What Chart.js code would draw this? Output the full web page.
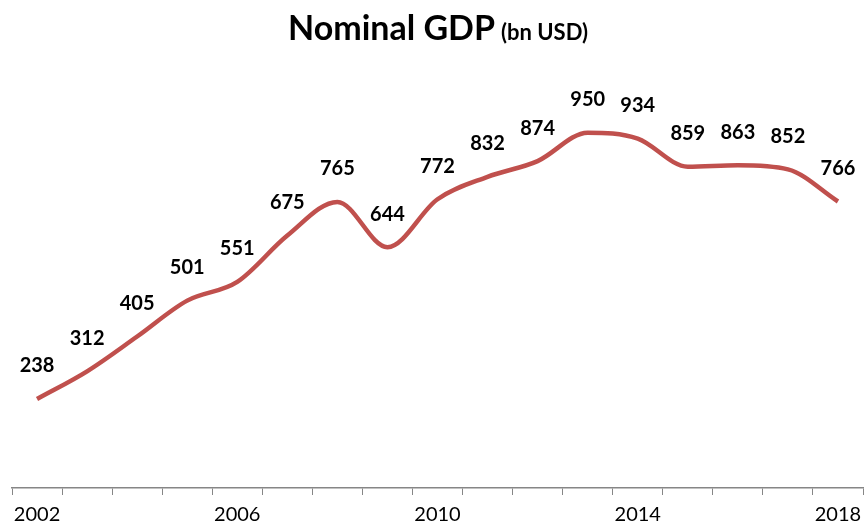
<!DOCTYPE html>
<html><head><meta charset="utf-8">
<script src="https://cdn.jsdelivr.net/npm/chart.js@4/dist/chart.umd.min.js"></script>
<style>html,body{margin:0;padding:0;background:#fff}#wrap{width:865px;height:530px}</style>
</head><body><div id="wrap"><canvas id="c" width="865" height="530"></canvas></div>
<script>
const years = ['2002','2003','2004','2005','2006','2007','2008','2009','2010','2011','2012','2013','2014','2015','2016','2017','2018'];
const gdp = [238,312,405,501,551,675,765,644,772,832,874,950,934,859,863,852,766];
const shownYears = ['2002','2006','2010','2014','2018'];

const titlePlugin = {
  id:'mixedTitle',
  afterDraw(chart){
    const ctx = chart.ctx;
    ctx.save();
    ctx.fillStyle = '#000';
    ctx.textBaseline = 'alphabetic';
    const f1 = 'bold 34px Lato, "Open Sans", sans-serif';
    const f2 = 'bold 22px Lato, "Open Sans", sans-serif';
    const t1 = 'Nominal GDP', t2 = '(bn USD)';
    ctx.font = f1; const w1 = ctx.measureText(t1).width;
    ctx.font = f2; const w2 = ctx.measureText(t2).width;
    const gap = 6;
    const total = w1 + gap + w2;
    let x = 438 - total/2;
    ctx.font = f1; ctx.textAlign='left'; ctx.fillText(t1, x, 40);
    ctx.font = f2; ctx.fillText(t2, x + w1 + gap, 40);
    ctx.restore();
  }
};
const labelPlugin = {
  id:'valLabels',
  afterDatasetsDraw(chart){
    const ctx = chart.ctx;
    const meta = chart.getDatasetMeta(0);
    ctx.save();
    ctx.font = 'bold 20px Lato, "Open Sans", sans-serif';
    ctx.fillStyle = '#000';
    ctx.textAlign = 'center';
    ctx.textBaseline = 'middle';
    meta.data.forEach((pt,i)=>{
      ctx.fillText(String(chart.data.datasets[0].data[i]), pt.x, pt.y - 33);
    });
    ctx.restore();
  }
};

new Chart(document.getElementById('c'), {
  type:'line',
  data:{labels:years, datasets:[{data:gdp, borderColor:'#C0504D', borderWidth:4.5, pointRadius:0, tension:0.4, cubicInterpolationMode:'monotone', fill:false}]},
  options:{
    responsive:false, animation:false,
    layout:{padding:{top:114, left:12, right:2, bottom:-5}},
    plugins:{legend:{display:false}, title:{display:false}, tooltip:{enabled:false}},
    scales:{
      x:{
        offset:true,
        afterFit:(s)=>{s.paddingLeft=0; s.paddingRight=0;},
        grid:{display:true, drawOnChartArea:false, offset:true, tickLength:7, color:'#868686', tickColor:'#868686'},
        border:{display:true, color:'#868686', width:1.5},
        ticks:{autoSkip:false, maxRotation:0, color:'#000', padding:10,
          font:{family:'"Liberation Sans Narrow", Lato, sans-serif', size:20, lineHeight:1.0},
          callback:function(v,i){const l=this.getLabelForValue(v);return shownYears.includes(l)?l:'';}}
      },
      y:{display:false, min:0, max:1000}
    }
  },
  plugins:[titlePlugin,labelPlugin]
});
</script></body></html>
